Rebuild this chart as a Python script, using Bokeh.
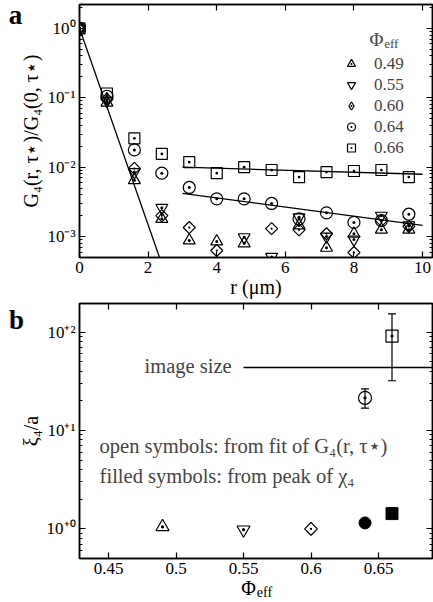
import numpy as np
from bokeh.plotting import figure
from bokeh.models import (FixedTicker, LinearAxis, LogAxis, Range1d, Label, Legend,
                          LegendItem, Whisker, TeeHead, ColumnDataSource)
from bokeh.layouts import column
from bokeh.embed import file_html
from bokeh.resources import INLINE

FONT = "Liberation Serif"
nan = float("nan")

# ---------------- panel a data ----------------
r_um = [0.0, 0.8, 1.6, 2.4, 3.2, 4.0, 4.8, 5.6, 6.4, 7.2, 8.0, 8.8, 9.6]
G4_049 = [1.0, 0.085, 0.0065, 0.0018, 0.00088, 0.00085, 0.00080, nan, 0.00145, 0.00069, 0.0011, 0.00126, 0.00126]
G4_055 = [1.0, 0.090, 0.0085, 0.0026, nan, nan, 0.00098, 0.00051, 0.0019, 0.0010, 0.00091, 0.0020, 0.00145]
G4_060 = [1.0, 0.095, 0.0096, 0.0020, 0.00135, 0.00063, nan, 0.0013, 0.00125, 0.0011, 0.00059, 0.0017, 0.0014]
G4_064 = [1.0, 0.105, 0.0177, 0.0082, 0.0051, 0.0035, 0.0035, 0.0030, 0.0018, 0.0022, 0.0016, 0.0017, 0.0021]
G4_066 = [1.0, 0.115, 0.026, 0.0155, 0.0118, 0.0082, 0.0100, 0.0091, 0.0072, 0.0085, 0.0088, 0.0091, 0.0072]
phi_labels = ["0.49", "0.55", "0.60", "0.64", "0.66"]

fit_steep_r = [0.0, 2.5]
fit_steep_G = [1.0, 2.9e-4]
fit_066_r = [3.0, 10.0]
fit_066_G = [0.0100, 0.0079]
fit_064_r = [3.0, 10.0]
fit_064_G = [0.0042, 0.00145]

x_ticks_a = [0, 2, 4, 6, 8, 10]
x_tick_labels_a = ["0", "2", "4", "6", "8", "10"]
y_ticks_a = [0.001, 0.01, 0.1, 1.0]
y_tick_labels_a = ["10⁻³", "10⁻²", "10⁻¹", "10⁰"]

# ---------------- panel b data ----------------
phi_open = [0.49, 0.55, 0.60, 0.64, 0.66]
xi_open = [1.05, 0.98, 1.0, 21.4, 91.0]
phi_err = [0.64, 0.66]
xi_err_low = [16.9, 32.0]
xi_err_high = [26.5, 153.0]
phi_filled = [0.64, 0.66]
xi_filled = [1.15, 1.43]
image_size_xi = 43.6
image_size_phi_start = 0.55

x_ticks_b = [0.45, 0.5, 0.55, 0.6, 0.65]
x_tick_labels_b = ["0.45", "0.5", "0.55", "0.6", "0.65"]
y_ticks_b = [1.0, 10.0, 100.0]
y_tick_labels_b = ["10⁺⁰", "10⁺¹", "10⁺²"]

XB = (0.4285, 0.690)


def log_minor(lo_exp, hi_exp):
    out = []
    for e in range(lo_exp, hi_exp + 1):
        for m in range(2, 10):
            out.append(m * 10.0 ** e)
    return out


def style_axis(ax, ticks, labels=None):
    ax.major_tick_in = 6
    ax.major_tick_out = 0
    ax.minor_tick_in = 3
    ax.minor_tick_out = 0
    ax.axis_line_width = 1.5
    ax.axis_line_color = "black"
    ax.major_tick_line_width = 1.2
    ax.minor_tick_line_width = 1.0
    ax.major_tick_line_color = "black"
    ax.minor_tick_line_color = "black"
    ax.major_label_text_font = FONT
    ax.major_label_text_color = "black"
    ax.axis_label_text_font = FONT
    ax.axis_label_text_font_style = "normal"
    ax.axis_label_text_color = "black"
    if labels is not None:
        ax.major_label_overrides = dict(zip(ticks, labels))
        ax.major_label_text_font_size = "17px"
        ax.major_label_standoff = 4
    else:
        ax.major_label_overrides = {t: "" for t in ticks}
        ax.major_label_text_font_size = "1px"
        ax.major_label_standoff = 0


def text_axis(p, place, tick, text, size, standoff):
    """an axis without line or ticks that only carries one piece of text"""
    ax = LinearAxis(ticker=FixedTicker(ticks=[tick], minor_ticks=[]),
                    major_label_overrides={tick: text})
    ax.axis_line_color = None
    ax.major_tick_line_color = None
    ax.minor_tick_line_color = None
    ax.major_tick_in = 0
    ax.major_tick_out = 0
    ax.major_label_text_font = FONT
    ax.major_label_text_font_size = size
    ax.major_label_text_color = "black"
    ax.major_label_standoff = standoff
    p.add_layout(ax, place)


def side_label(p, place, x, y, text, size="20px", style="normal", align="left", baseline="alphabetic"):
    p.add_layout(Label(x=x, y=y, x_units="canvas", y_units="canvas", text=text,
                       text_font=FONT, text_font_size=size, text_font_style=style,
                       text_align=align, text_baseline=baseline, text_color="black"), place)


# ================= panel a =================
p1 = figure(width=433, height=302, x_range=Range1d(0, 10.29), y_range=Range1d(5.0e-4, 2.2),
            y_axis_type="log", output_backend="svg", toolbar_location=None,
            min_border_left=79, min_border_right=1, min_border_top=4, min_border_bottom=45)
p1.grid.visible = False
p1.outline_line_color = "black"
p1.outline_line_width = 1.5
p1.background_fill_color = "white"

xa = p1.xaxis[0]
ya = p1.yaxis[0]
xa.ticker = FixedTicker(ticks=x_ticks_a, minor_ticks=[])
ya.ticker = FixedTicker(ticks=y_ticks_a, minor_ticks=log_minor(-4, 0))
style_axis(xa, x_ticks_a, x_tick_labels_a)
style_axis(ya, y_ticks_a, y_tick_labels_a)
ya.axis_label = "G₄(r, τ⋆)/G₄(0, τ⋆)"
ya.axis_label_text_font_size = "20px"
ya.axis_label_standoff = 2
xa.axis_label = "r (μm)"
xa.axis_label_text_font_size = "20px"
xa.axis_label_standoff = 0

top_a = LinearAxis(ticker=FixedTicker(ticks=x_ticks_a, minor_ticks=[]))
style_axis(top_a, x_ticks_a)
p1.add_layout(top_a, "above")
right_a = LogAxis(ticker=FixedTicker(ticks=y_ticks_a, minor_ticks=log_minor(-4, 0)))
style_axis(right_a, y_ticks_a)
p1.add_layout(right_a, "right")

# fit lines
for fr, fg in [(fit_steep_r, fit_steep_G), (fit_066_r, fit_066_G), (fit_064_r, fit_064_G)]:
    p1.line(fr, fg, line_color="black", line_width=1.3)

# (values, marker for data, angle, size, marker for legend)
series = [
    (G4_049, "triangle_dot", 0.0, 12, "triangle_dot"),
    (G4_055, "triangle_dot", np.pi, 12, "inverted_triangle"),
    (G4_060, "square_dot", np.pi / 4, 8.5, "diamond_dot"),
    (G4_064, "circle_dot", 0.0, 12, "circle_dot"),
    (G4_066, "square_dot", 0.0, 11, "square_dot"),
]
items = []
for (vals, mk, ang, sz, lmk), lab in zip(series, phi_labels):
    src = ColumnDataSource(dict(r=r_um, g=np.array(vals, dtype=float)))
    rr = p1.scatter("r", "g", source=src, marker=mk, angle=ang, size=sz,
                    fill_color=None, line_color="black", line_width=1.2)
    if lmk != mk:
        # legend-only twin (the legend does not rotate markers)
        rr = p1.scatter(x=[nan], y=[nan], marker=lmk, size=sz,
                        fill_color=None, line_color="black", line_width=1.2)
    items.append(LegendItem(label=lab, renderers=[rr]))

leg = Legend(items=items, location=(262, 99), orientation="vertical",
             glyph_width=20, glyph_height=21, label_height=21, spacing=0,
             padding=0, margin=0, label_standoff=13, border_line_color=None,
             background_fill_alpha=0, label_text_font=FONT, label_text_font_size="17px")
p1.add_layout(leg)

p1.add_layout(Label(x=8.86, y=0.69, text="Φ", text_font=FONT, text_font_size="19px",
                    text_align="right", text_baseline="alphabetic"))
p1.add_layout(Label(x=8.88, y=0.60, text="eff", text_font=FONT, text_font_size="13px",
                    text_align="left", text_baseline="alphabetic"))

side_label(p1, "left", 15, 14, "a", size="27px", style="bold", align="center", baseline="middle")

# ================= panel b =================
p2 = figure(width=433, height=300, x_range=Range1d(*XB), y_range=Range1d(0.5, 195.0),
            y_axis_type="log", output_backend="svg", toolbar_location=None,
            min_border_left=79, min_border_right=1, min_border_top=1, min_border_bottom=44)
p2.grid.visible = False
p2.outline_line_color = "black"
p2.outline_line_width = 1.5
p2.background_fill_color = "white"

xb = p2.xaxis[0]
yb = p2.yaxis[0]
xb.ticker = FixedTicker(ticks=x_ticks_b, minor_ticks=[])
yb.ticker = FixedTicker(ticks=y_ticks_b, minor_ticks=log_minor(-1, 2))
style_axis(xb, x_ticks_b, x_tick_labels_b)
style_axis(yb, y_ticks_b, y_tick_labels_b)
yb.axis_label = "ξ₄/a"
yb.axis_label_text_font_size = "20px"
yb.axis_label_standoff = 2

top_b = LinearAxis(ticker=FixedTicker(ticks=x_ticks_b, minor_ticks=[]))
style_axis(top_b, x_ticks_b)
p2.add_layout(top_b, "above")
right_b = LogAxis(ticker=FixedTicker(ticks=y_ticks_b, minor_ticks=log_minor(-1, 2)))
style_axis(right_b, y_ticks_b)
p2.add_layout(right_b, "right")

# x-axis title "Φ_eff" built from two text-only axes (Φ, then subscript eff pulled up)
text_axis(p2, "below", 0.5537, "Φ", "20px", 0)
text_axis(p2, "below", 0.5655, "eff", "14px", -17)

# image size line
p2.segment(x0=[image_size_phi_start], y0=[image_size_xi], x1=[XB[1]], y1=[image_size_xi],
           line_color="black", line_width=1.3)

# error bars
err_src = ColumnDataSource(dict(x=phi_err, lo=xi_err_low, hi=xi_err_high))
p2.add_layout(Whisker(source=err_src, base="x", lower="lo", upper="hi", dimension="height",
                      line_color="black", line_width=1.2,
                      upper_head=TeeHead(size=8, line_color="black", line_width=1.2),
                      lower_head=TeeHead(size=8, line_color="black", line_width=1.2)))

open_markers = ["triangle_dot", "triangle_dot", "square_dot", "circle_dot", "square_dot"]
open_angles = [0.0, np.pi, np.pi / 4, 0.0, 0.0]
open_sizes = [13, 13, 9, 13, 12]
osrc = ColumnDataSource(dict(x=phi_open, y=xi_open, m=open_markers, a=open_angles, s=open_sizes))
p2.scatter("x", "y", source=osrc, marker="m", angle="a", size="s",
           fill_color=None, line_color="black", line_width=1.2)
fsrc = ColumnDataSource(dict(x=phi_filled, y=xi_filled, m=["circle", "square"], s=[12, 12]))
p2.scatter("x", "y", source=fsrc, marker="m", size="s", fill_color="black", line_color="black")

p2.add_layout(Label(x=0.5412, y=45.0, text="image size", text_font=FONT, text_font_size="20.5px",
                    text_align="right", text_baseline="middle"))
p2.add_layout(Label(x=0.4434, y=7.0, text="open symbols: from fit of G₄(r, τ⋆)", text_font=FONT,
                    text_font_size="20.5px", text_align="left", text_baseline="middle"))
p2.add_layout(Label(x=0.4434, y=3.44, text="filled symbols: from peak of χ₄", text_font=FONT,
                    text_font_size="20.5px", text_align="left", text_baseline="middle"))

side_label(p2, "left", 16, 17, "b", size="27px", style="bold", align="center", baseline="middle")

layout = column(p1, p2, spacing=0)
open("out.html", "w").write(file_html(layout, INLINE))
